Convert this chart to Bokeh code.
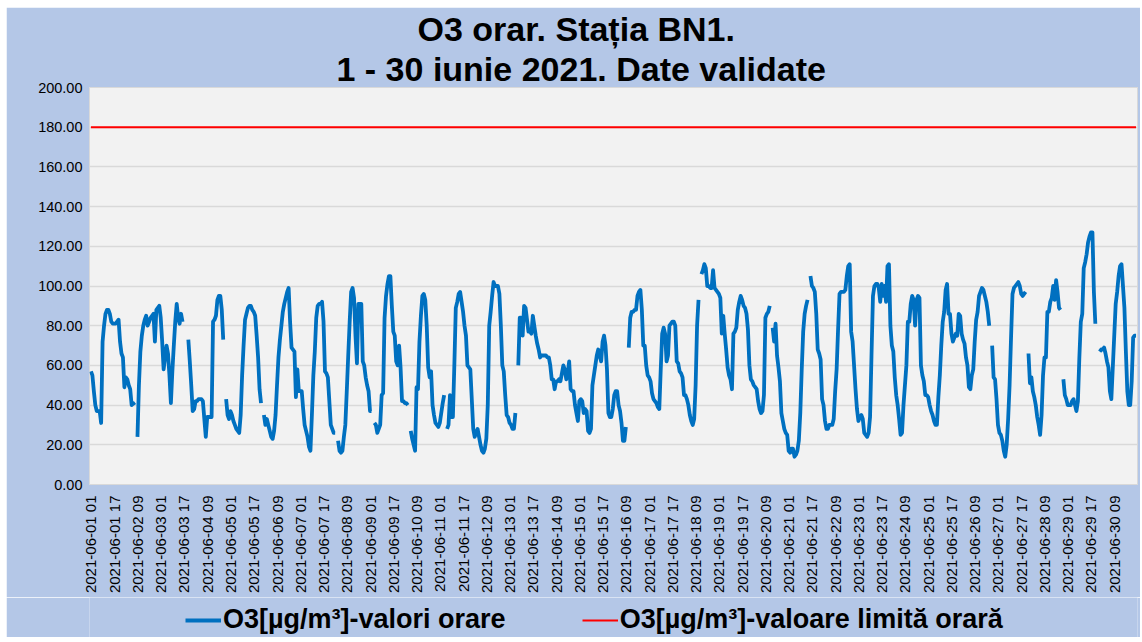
import math
import numpy as np
from bokeh.plotting import figure
from bokeh.layouts import column
from bokeh.models import (Range1d, FixedTicker, NumeralTickFormatter, Legend, LegendItem,
                          Title, ColumnDataSource)
from bokeh.embed import file_html
from bokeh.resources import INLINE

N = None
# Hourly O3 values (µg/m³), one list per day, hours 01..24
d01 = [57, 55, 47, 40, 37, 37, 37, 31, 72, 80, 86, 88, 88, 86, 82, 81, 81, 81, 82, 83, 72, 66, 64, 49]
d02 = [54, 53, 50, 48, 40, 41, 40, N, 24, 50, 67, 75, 80, 83, 85, 80, 82, 84, 85, 86, 72, 88, 89, 90]
d03 = [84, 72, 58, 64, 70, 66, 55, 41, 57, 70, 82, 91, 84, 81, 86, 82, N, N, N, 73, 62, 50, 37, 38]
d04 = [42, 42, 43, 43, 43, 42, 33, 24, 34, 34, 34, 34, 82, 83, 85, 93, 95, 95, 88, 73, N, 43, 35, 33]
d05 = [37, 35, 32, 30, 28, 27, 26, 35, 55, 70, 83, 86, 89, 90, 90, 88, 87, 85, 75, 64, 48, 41, N, 35]
d06 = [30, 33, 30, 27, 24, 23, 27, 35, 50, 64, 73, 80, 87, 91, 94, 97, 99, 82, 69, 68, 67, 44, 58, 47]
d07 = [47, 47, 38, 30, 27, 24, 19, 17, 35, 55, 67, 84, 90, 91, 91, 92, 82, 57, 56, 54, 42, 30, 28, 26]
d08 = [26, N, 22, 17, 16, 17, 24, 30, 47, 65, 82, 97, 99, 94, 75, 61, 91, 91, 91, 62, 60, 54, 50, 47]
d09 = [37, 37, N, 31, 30, 26, 28, 30, 45, 46, 84, 95, 101, 105, 105, 90, 77, 75, 62, 60, 70, 59, 42, 42]
d10 = [41, 41, 40, N, 27, 23, 20, 17, 49, 48, 72, 85, 95, 96, 93, 80, 59, 54, 57, 40, 35, 31, 30, 29]
d11 = [31, 36, 41, 45, N, 28, 30, 45, 34, 34, 60, 89, 92, 96, 97, 92, 87, 80, 75, 60, 59, 58, 43, 28]
d12 = [24, 26, 28, 24, 20, 17, 16, 18, 23, 40, 80, 87, 95, 102, 100, 100, 100, 96, 80, 60, 57, 45, 35, 34]
d13 = [31, 30, 28, 28, 36, N, 60, 84, 84, 75, 90, 89, 83, 77, 77, 76, 85, 80, 75, 71, 68, 64, 65, 65]
d14 = [65, 65, 64, 64, 60, 53, 53, 48, 52, 52, 53, 52, 56, 60, 58, 53, 56, 62, 48, 47, 47, 40, 36, 32]
d15 = [42, 43, 42, 36, 38, 37, 27, 26, 28, 50, 55, 60, 65, 68, 65, 62, 72, 75, 70, 58, 36, 34, 34, 38]
d16 = [45, 47, 47, 40, 37, 31, 22, 22, 29, N, 69, 84, 87, 87, 88, 88, 95, 97, 98, 88, 70, 70, 60, 55]
d17 = [54, 52, 46, 43, 42, 41, 39, 38, 58, 76, 79, 76, 62, 65, 80, 81, 82, 82, 80, 62, 61, 57, 56, 54]
d18 = [45, 45, 43, 40, 35, 32, 30, 33, 50, 80, 93, N, 106, 108, 111, 109, 100, 100, 99, 99, 108, 99, 98, 97]
d19 = [96, 94, 76, 85, 76, 68, 59, 55, 53, 48, 76, 77, 79, 88, 92, 95, 93, 90, 89, 86, 78, 60, 53, 52]
d20 = [50, 49, 48, 42, 38, 36, 37, 45, 84, 86, 87, 90, N, 79, 72, 81, 65, 59, 52, 36, 32, 28, 26, 25]
d21 = [17, 16, 18, 18, 14, 15, 17, 22, 36, 58, 77, 86, 90, 93, N, 105, 100, 99, 97, 86, 68, 66, 63, 43]
d22 = [40, 32, 28, 28, 30, 30, 30, 33, 47, 58, 78, 96, 97, 97, 97, 98, 105, 110, 111, 77, 72, 60, 48, 38]
d23 = [32, 34, 35, 33, 26, 25, 24, 26, 34, 65, 95, 100, 101, 101, 99, 92, 101, 95, 100, 92, 110, 111, 80, 70]
d24 = [67, 54, 45, 40, 33, 25, 26, 40, 50, 60, 82, 82, 91, 95, 93, 80, 93, 95, 94, 60, 55, 52, 45, 45]
d25 = [44, 40, 37, 35, 32, 30, 30, 44, 55, 70, 82, 87, 98, 101, 86, 86, 76, 72, 74, 76, 75, 86, 85, 76]
d26 = [73, 71, 64, 60, 49, 48, 55, 58, 72, 83, 87, 95, 97, 99, 98, 95, 92, 87, 80, N, 70, 54, 53, 43]
d27 = [30, 26, 25, 22, 17, 14, 20, 33, 50, 74, 96, 99, 100, 101, 102, 100, 96, 95, 96, 97, N, 66, 51, 54]
d28 = [47, 44, 40, 34, 30, 25, 35, 55, 64, 64, 87, 87, 92, 94, 100, 93, 103, 97, 89, 88, N, 53, 45, 43]
d29 = [40, 40, 40, 42, 43, 40, 37, 42, 64, 82, 86, 109, 112, 116, 122, 125, 127, 127, 97, 81, N, N, 67, 68]
d30 = [68, 69, 66, 62, 59, 47, 43, 59, 75, 91, 97, 105, 110, 111, 100, 89, 67, 47, 40, 40, 52, 74, 75, 75]

limit_value = 180  # valoare limită orară

tick_labels = [
    "2021-06-01 01", "2021-06-01 17", "2021-06-02 09", "2021-06-03 01", "2021-06-03 17",
    "2021-06-04 09", "2021-06-05 01", "2021-06-05 17", "2021-06-06 09", "2021-06-07 01",
    "2021-06-07 17", "2021-06-08 09", "2021-06-09 01", "2021-06-09 17", "2021-06-10 09",
    "2021-06-11 01", "2021-06-11 17", "2021-06-12 09", "2021-06-13 01", "2021-06-13 17",
    "2021-06-14 09", "2021-06-15 01", "2021-06-15 17", "2021-06-16 09", "2021-06-17 01",
    "2021-06-17 17", "2021-06-18 09", "2021-06-19 01", "2021-06-19 17", "2021-06-20 09",
    "2021-06-21 01", "2021-06-21 17", "2021-06-22 09", "2021-06-23 01", "2021-06-23 17",
    "2021-06-24 09", "2021-06-25 01", "2021-06-25 17", "2021-06-26 09", "2021-06-27 01",
    "2021-06-27 17", "2021-06-28 09", "2021-06-29 01", "2021-06-29 17", "2021-06-30 09",
]

y_ticks = [0, 20, 40, 60, 80, 100, 120, 140, 160, 180, 200]

title_line1 = "O3 orar. Stația BN1."
title_line2 = "1 - 30 iunie 2021. Date validate"
legend_o3 = "O3[µg/m³]-valori orare"
legend_limit = "O3[µg/m³]-valoare limită orară"

days = [d01, d02, d03, d04, d05, d06, d07, d08, d09, d10, d11, d12, d13, d14, d15,
        d16, d17, d18, d19, d20, d21, d22, d23, d24, d25, d26, d27, d28, d29, d30]
values = [np.nan if v is None else float(v) for d in days for v in d]
hours = list(range(len(values)))
limits = [limit_value] * len(values)

# hour index of each tick label (day, hour 01..24)
tick_pos = [(int(s[8:10]) - 1) * 24 + int(s[11:13]) - 1 for s in tick_labels]

BG = "#b4c7e7"
FONT = "Liberation Sans"
BLUE = "#0070c0"
RED = "#ff0000"
W = 1134
BL, BR = 83, 3

src = ColumnDataSource(dict(x=hours, y=values, lim=limits))

# ---- main chart ----
p = figure(width=W, height=590, output_backend="svg", toolbar_location=None,
           x_range=Range1d(-1, len(values)), y_range=Range1d(0, 200),
           background_fill_color="#f2f2f2", border_fill_color=BG,
           min_border_left=BL, min_border_right=BR, min_border_top=79, min_border_bottom=113)
p.outline_line_color = "#d9d9d9"

p.line("x", "lim", source=src, line_color=RED, line_width=2)
p.line("x", "y", source=src, line_color=BLUE, line_width=3.8, line_join="round")

p.xgrid.visible = False
p.ygrid.grid_line_color = "#d9d9d9"
p.ygrid.grid_line_width = 1.5

p.yaxis.ticker = FixedTicker(ticks=y_ticks)
p.yaxis.formatter = NumeralTickFormatter(format="0.00")
p.yaxis.major_label_text_font = FONT
p.yaxis.major_label_text_font_size = "14.5px"
p.yaxis.major_label_text_color = "#000000"
p.yaxis.major_label_standoff = 1

p.xaxis.ticker = FixedTicker(ticks=tick_pos)
p.xaxis.major_label_overrides = {t: s for t, s in zip(tick_pos, tick_labels)}
p.xaxis.major_label_orientation = math.pi / 2
p.xaxis.major_label_text_font = FONT
p.xaxis.major_label_text_font_size = "15px"
p.xaxis.major_label_text_color = "#000000"
p.xaxis.major_label_standoff = 5

for ax in (p.xaxis[0], p.yaxis[0]):
    ax.axis_line_color = None
    ax.major_tick_line_color = None
    ax.minor_tick_line_color = None

# titles: the one added later sits farther from the plot area; offsets from frame left
p.add_layout(Title(text=title_line2, align="left", offset=247, standoff=0,
                   text_font=FONT, text_font_style="bold", text_font_size="34px",
                   text_color="#000000"), "above")
p.add_layout(Title(text=title_line1, align="left", offset=328, standoff=0,
                   text_font=FONT, text_font_style="bold", text_font_size="34px",
                   text_color="#000000"), "above")

# ---- legend strip under the chart ----
lg = figure(width=W, height=40, output_backend="svg", toolbar_location=None,
            x_range=Range1d(-100, -99), y_range=Range1d(0, 1),
            x_axis_type=None, y_axis_type=None,
            background_fill_color=BG, border_fill_color=BG,
            min_border_left=BL, min_border_right=BR, min_border_top=0, min_border_bottom=0)
lg.outline_line_color = None
lg.grid.visible = False
l_o3 = lg.line("x", "y", source=src, line_color=BLUE, line_width=3.8)
l_lim = lg.line("x", "lim", source=src, line_color=RED, line_width=2)

legend = Legend(items=[LegendItem(label=legend_o3, renderers=[l_o3]),
                       LegendItem(label=legend_limit, renderers=[l_lim])],
                orientation="horizontal", location=(96, 2),
                label_text_font=FONT, label_text_font_style="bold",
                label_text_font_size="27px", label_text_color="#000000",
                glyph_width=36, glyph_height=20, label_standoff=2, spacing=76,
                padding=4, margin=0, background_fill_alpha=0, border_line_color=None)
lg.add_layout(legend, "center")

layout = column(p, lg, spacing=0, margin=(7, 0, 0, 6))
open("out.html", "w").write(file_html(layout, INLINE))
